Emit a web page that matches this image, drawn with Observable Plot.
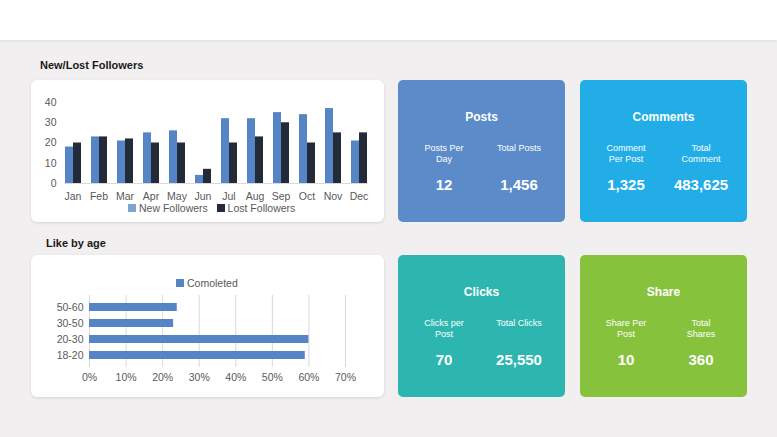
<!DOCTYPE html>
<html><head><meta charset="utf-8">
<script src="https://cdn.jsdelivr.net/npm/d3@7"></script>
<script src="https://cdn.jsdelivr.net/npm/@observablehq/plot@0.6"></script>
<style>
html,body{margin:0;padding:0;}
body{width:777px;height:437px;background:#f2eff1;position:relative;overflow:hidden;font-family:"Liberation Sans",Arial,sans-serif;}
#header{position:absolute;left:0;top:0;width:777px;height:40px;background:#fff;box-shadow:0 1px 3px rgba(0,0,0,0.08);}
.title{position:absolute;font-weight:bold;font-size:11px;color:#1a1a1a;}
.card{position:absolute;background:#fff;border-radius:6px;box-shadow:0 1px 3px rgba(0,0,0,0.12);}
.card svg{position:absolute;left:0;top:0;}
.legend{position:absolute;font-size:10.5px;color:#595959;white-space:nowrap;}
.sw{display:inline-block;width:8px;height:8px;margin-right:3px;vertical-align:-0px;}
.tile{position:absolute;width:167px;height:142px;border-radius:5px;color:#fff;}
.tile .t{position:absolute;top:30px;left:0;width:100%;text-align:center;font-weight:bold;font-size:12px;}
.tile .l{position:absolute;top:63px;width:70px;text-align:center;font-size:9px;line-height:11px;}
.tile .v{position:absolute;top:96px;width:90px;text-align:center;font-size:15px;font-weight:bold;}
</style></head>
<body>
<div id="header"></div>
<div class="title" style="left:40px;top:59px;">New/Lost Followers</div>
<div class="title" style="left:46px;top:237px;">Like by age</div>
<div class="card" id="c1" style="left:31px;top:80px;width:353px;height:142px;"></div>
<div class="card" id="c2" style="left:31px;top:255px;width:353px;height:142px;"></div>
<div id="tiles"></div>
<script>
const months = ["Jan","Feb","Mar","Apr","May","Jun","Jul","Aug","Sep","Oct","Nov","Dec"];
const newFollowers = [18,23,21,25,26,4,32,32,35,34,37,21];
const lostFollowers = [20,23,22,20,20,7,20,23,30,20,25,25];
const seriesNames = ["New Followers","Lost Followers"];
const ages = ["50-60","30-50","20-30","18-20"];
const completed = [0.24,0.23,0.60,0.59];
const ageLegend = "Comoleted";
const tileTitles = ["Posts","Comments","Clicks","Share"];
const tileLabels = [["Posts Per<br>Day","Total Posts"],["Comment<br>Per Post","Total<br>Comment"],["Clicks per<br>Post","Total Clicks"],["Share Per<br>Post","Total<br>Shares"]];
const tileValues = [["12","1,456"],["1,325","483,625"],["70","25,550"],["10","360"]];
const tileColors = ["#5b8bc8","#22ade6","#2db6b0","#87c23c"];

const blue = "#5585c5", dark = "#232b38";

// Chart 1
const data1 = [];
months.forEach((m,i)=>{
  data1.push({month:m, series:seriesNames[0], value:newFollowers[i]});
  data1.push({month:m, series:seriesNames[1], value:lostFollowers[i]});
});
const p1 = Plot.plot({
  width:353, height:125,
  marginLeft:32, marginRight:16, marginTop:22, marginBottom:22,
  style:{fontFamily:"Liberation Sans, Arial, sans-serif", fontSize:"10.5px", color:"#595959", background:"transparent"},
  fx:{domain:months, padding:0.35, label:null, tickSize:0, tickPadding:9},
  x:{domain:seriesNames, axis:null, padding:0},
  y:{domain:[0,40], ticks:[0,10,20,30,40], label:null, tickSize:0, tickPadding:8},
  color:{domain:seriesNames, range:[blue,dark]},
  marks:[
    Plot.frame({anchor:"bottom", stroke:"#d9d9d9", strokeOpacity:1, facet:"super"}),
    Plot.barY(data1,{fx:"month", x:"series", y:"value", fill:"series"})
  ]
});
document.getElementById("c1").appendChild(p1);
const lg1 = document.createElement("div");
lg1.className="legend";
lg1.style.left="97px"; lg1.style.top="122px";
lg1.innerHTML = `<span class="sw" style="background:${blue};opacity:0.75"></span>${seriesNames[0]}&nbsp;&nbsp;&nbsp;<span class="sw" style="background:${dark}"></span>${seriesNames[1]}`;
document.getElementById("c1").appendChild(lg1);

// Chart 2
const data2 = ages.map((a,i)=>({age:a, value:completed[i]}));
const p2 = Plot.plot({
  width:353, height:142,
  marginLeft:58, marginRight:39, marginTop:40, marginBottom:30,
  style:{fontFamily:"Liberation Sans, Arial, sans-serif", fontSize:"10.5px", color:"#595959", background:"transparent"},
  x:{domain:[0,0.7], ticks:d3.range(0,0.71,0.1), tickFormat:d=>Math.round(d*100)+"%", label:null, tickSize:0, tickPadding:6},
  y:{domain:ages, padding:0.5, label:null, tickSize:0, tickPadding:6},
  marks:[
    Plot.gridX(d3.range(0,0.71,0.1),{stroke:"#d9d9d9", strokeOpacity:1}),
    Plot.barX(data2,{y:"age", x:"value", fill:blue})
  ]
});
document.getElementById("c2").appendChild(p2);
const lg2 = document.createElement("div");
lg2.className="legend";
lg2.style.left="145px"; lg2.style.top="22px";
lg2.innerHTML = `<span class="sw" style="background:${blue}"></span>${ageLegend}`;
document.getElementById("c2").appendChild(lg2);

// Tiles
const pos = [[398,80],[580,80],[398,255],[580,255]];
const tiles = document.getElementById("tiles");
tileTitles.forEach((t,i)=>{
  const d = document.createElement("div");
  d.className="tile";
  d.style.left=pos[i][0]+"px"; d.style.top=pos[i][1]+"px"; d.style.background=tileColors[i];
  d.innerHTML = `<div class="t">${t}</div>
   <div class="l" style="left:${46-35}px">${tileLabels[i][0]}</div>
   <div class="l" style="left:${121-35}px">${tileLabels[i][1]}</div>
   <div class="v" style="left:${46-45}px">${tileValues[i][0]}</div>
   <div class="v" style="left:${121-45}px">${tileValues[i][1]}</div>`;
  tiles.appendChild(d);
});
</script>
</body></html>
